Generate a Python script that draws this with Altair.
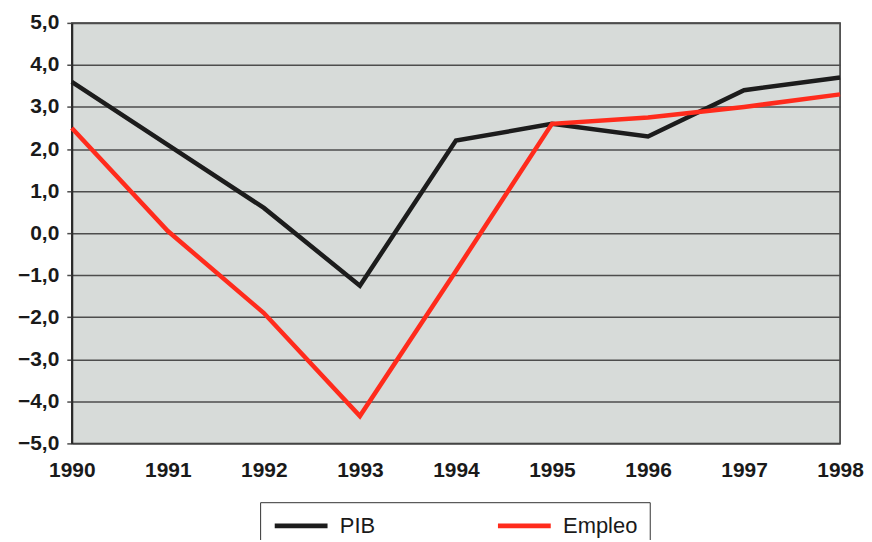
import altair as alt
import pandas as pd

years = [1990, 1991, 1992, 1993, 1994, 1995, 1996, 1997, 1998]
pib = [3.6, 2.1, 0.6, -1.25, 2.2, 2.6, 2.3, 3.4, 3.7]
empleo = [2.5, 0.05, -1.9, -4.35, -0.9, 2.6, 2.75, 3.0, 3.3]
series = ["PIB", "Empleo"]
colors = ["#1c1c1c", "#ff2b1c"]
y_ticks = [-5, -4, -3, -2, -1, 0, 1, 2, 3, 4, 5]

rows = []
for name, vals in zip(series, [pib, empleo]):
    for yr, v in zip(years, vals):
        rows.append({"year": yr, "value": v, "serie": name})
df = pd.DataFrame(rows)

FONT = "Arial, Liberation Sans, sans-serif"

chart = alt.Chart(df).mark_line(strokeWidth=4.5, strokeJoin="miter").encode(
    x=alt.X("year:Q",
            scale=alt.Scale(domain=[1990, 1998], nice=False, zero=False),
            axis=alt.Axis(values=years, format="d", title=None, grid=False,
                          ticks=False, domain=False, labelFlush=False,
                          labelPadding=16, labelFontSize=21, labelFontWeight="bold",
                          labelColor="#1a1a1a", labelFont=FONT)),
    y=alt.Y("value:Q",
            scale=alt.Scale(domain=[-5, 5], nice=False),
            axis=alt.Axis(values=y_ticks, title=None,
                          labelExpr="replace(replace(format(datum.value, '.1f'), '.', ','), '-', '–')",
                          grid=True, gridColor="#4d4d4d", gridWidth=1.5,
                          tickColor="#4d4d4d", tickSize=5, tickWidth=1.5,
                          domainColor="#2a2a2a", domainWidth=2,
                          labelPadding=8, labelFontSize=21, labelFontWeight="bold",
                          labelColor="#1a1a1a", labelFont=FONT)),
    color=alt.Color("serie:N",
                    scale=alt.Scale(domain=series, range=colors),
                    legend=alt.Legend(title=None, orient="none", legendX=189, legendY=481,
                                      direction="horizontal",
                                      symbolType="M-1,0H5",
                                      symbolSize=312, symbolStrokeWidth=5,
                                      labelFontSize=22, labelFont=FONT, labelColor="#1a1a1a",
                                      labelOffset=45, columnPadding=112,
                                      padding=12, strokeColor="#333333",
                                      fillColor="#ffffff")),
    order=alt.Order("year:Q"),
).properties(
    width=771, height=422,
    autosize=alt.AutoSizeParams(type="none"),
    padding={"left": 64, "top": 14, "right": 24, "bottom": 96},
    background="#ffffff",
).configure_view(
    fill="#d7dbd9", stroke="#2f2f2f", strokeWidth=1.5
)

chart.save("out.html", embed_options={"renderer": "svg", "actions": False})
